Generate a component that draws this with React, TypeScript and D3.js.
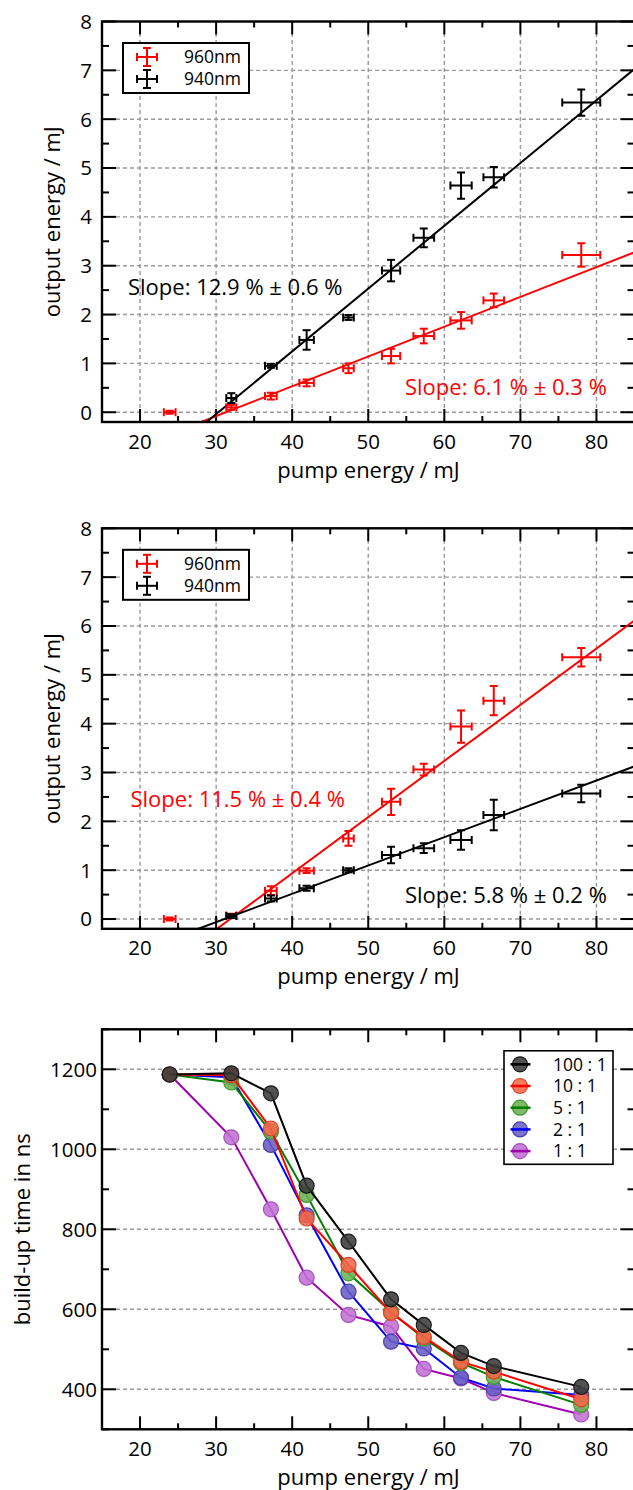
import React from "react";
import * as d3 from "d3";

const W = 633;
const H = 1490;
const FONT = "'Open Sans', sans-serif";

// pump energies (mJ) and their horizontal error
const pumpEnergy = [23.9, 32.0, 37.2, 41.9, 47.4, 53.0, 57.3, 62.2, 66.5, 78.0];
const pumpErr = [0.77, 0.66, 0.77, 0.95, 0.7, 1.2, 1.36, 1.4, 1.36, 2.5];

// panel 1: output energy (mJ)
const p1Red = [0, 0.1, 0.33, 0.6, 0.9, 1.15, 1.56, 1.88, 2.29, 3.22];
const p1RedErr = [0.03, 0.05, 0.07, 0.07, 0.1, 0.15, 0.15, 0.17, 0.14, 0.24];
const p1Black = [null, 0.29, 0.95, 1.48, 1.94, 2.9, 3.57, 4.64, 4.81, 6.34];
const p1BlackErr = [null, 0.1, 0.04, 0.2, 0.05, 0.22, 0.19, 0.27, 0.21, 0.27];

// panel 2: output energy (mJ)
const p2Red = [0, 0.07, 0.58, 0.99, 1.65, 2.4, 3.06, 3.94, 4.47, 5.36];
const p2RedErr = [0.03, 0.04, 0.09, 0.05, 0.15, 0.27, 0.12, 0.33, 0.3, 0.19];
const p2Black = [null, 0.06, 0.42, 0.63, 1.0, 1.31, 1.45, 1.62, 2.13, 2.57];
const p2BlackErr = [null, 0.04, 0.06, 0.05, 0.04, 0.17, 0.1, 0.2, 0.31, 0.18];

// linear fits: [slope, threshold]
const p1FitRed = [0.061, 31.3];
const p1FitBlack = [0.1285, 30.3];
const p2FitRed = [0.115, 31.85];
const p2FitBlack = [0.058, 31.1];

const legendNames = ["960nm", "940nm"];
const energyTicks = [0, 1, 2, 3, 4, 5, 6, 7, 8];
const pumpTicks = [20, 30, 40, 50, 60, 70, 80];

// panel 3: build-up time (ns)
const ratioNames = ["100 : 1", "10 : 1", "5 : 1", "2 : 1", "1 : 1"];
const t100 = [1187, 1190, 1140, 909, 769, 625, 561, 491, 458, 406];
const t10 = [1187, 1185, 1052, 827, 711, 591, 531, 469, 444, 375];
const t5 = [1187, 1167, 1044, 886, 690, 594, 527, 466, 431, 361];
const t2 = [1187, 1180, 1011, 835, 644, 519, 502, 429, 402, 386];
const t1 = [1187, 1030, 850, 679, 586, 557, 451, 427, 391, 337];
const timeTicks = [400, 600, 800, 1000, 1200];

const ratioStyle = [
  { line: "#000000", fill: "#3a3a3a", stroke: "#1a1a1a" },
  { line: "#ff0000", fill: "#f2684a", stroke: "#d8452a" },
  { line: "#008000", fill: "#6cb252", stroke: "#3f9a30" },
  { line: "#0000ff", fill: "#6a5fc4", stroke: "#4b40ae" },
  { line: "#a000b0", fill: "#c072d4", stroke: "#a452c0" },
];

const xScale = () => d3.scaleLinear().domain([15, 85]).range([102, 634.5]);

function Axes({ x, y, yMajor, yMinor, vGrid, labelRight, yTitle, titleX }) {
  const [x0, x1] = x.range();
  const [yb, yt] = y.range();
  const xMinor = [15, 25, 35, 45, 55, 65, 75, 85];
  return (
    <g>
      {yMajor.map((v) => (
        <line key={"gy" + v} x1={x0} x2={x1} y1={y(v)} y2={y(v)} stroke="#9a9a9a" strokeWidth={1.4} strokeDasharray="4,3" />
      ))}
      {vGrid &&
        pumpTicks.map((v) => (
          <line key={"gx" + v} x1={x(v)} x2={x(v)} y1={yb} y2={yt} stroke="#9a9a9a" strokeWidth={1.4} strokeDasharray="4,3" />
        ))}
      {yMajor.map((v) => (
        <g key={"ty" + v}>
          <line x1={x0} x2={x0 + 14} y1={y(v)} y2={y(v)} stroke="#000" strokeWidth={2} />
          <line x1={x1 - 14} x2={x1} y1={y(v)} y2={y(v)} stroke="#000" strokeWidth={2} />
          <text x={labelRight} y={y(v)} dy="0.36em" textAnchor="end" fontSize={20.5} fontFamily={FONT}>
            {v}
          </text>
        </g>
      ))}
      {yMinor.map((v) => (
        <g key={"my" + v}>
          <line x1={x0} x2={x0 + 7} y1={y(v)} y2={y(v)} stroke="#000" strokeWidth={2} />
          <line x1={x1 - 7} x2={x1} y1={y(v)} y2={y(v)} stroke="#000" strokeWidth={2} />
        </g>
      ))}
      {pumpTicks.map((v) => (
        <g key={"tx" + v}>
          <line x1={x(v)} x2={x(v)} y1={yb} y2={yb - 13} stroke="#000" strokeWidth={2} />
          <line x1={x(v)} x2={x(v)} y1={yt} y2={yt + 13} stroke="#000" strokeWidth={2} />
          <text x={x(v)} y={yb + 26.5} textAnchor="middle" fontSize={20.5} fontFamily={FONT}>
            {v}
          </text>
        </g>
      ))}
      {xMinor.map((v) => (
        <g key={"mx" + v}>
          <line x1={x(v)} x2={x(v)} y1={yb} y2={yb - 6} stroke="#000" strokeWidth={2} />
          <line x1={x(v)} x2={x(v)} y1={yt} y2={yt + 6} stroke="#000" strokeWidth={2} />
        </g>
      ))}
      <text x={(x0 + 633) / 2 + 1} y={yb + 55.5} textAnchor="middle" fontSize={22} fontFamily={FONT}>
        pump energy / mJ
      </text>
      <text
        transform={`translate(${titleX},${(yb + yt) / 2}) rotate(-90)`}
        textAnchor="middle"
        fontSize={22}
        fontFamily={FONT}
      >
        {yTitle}
      </text>
    </g>
  );
}

function ErrorCross({ cx, cy, dx, dy, color }) {
  const c = 4;
  return (
    <g stroke={color} strokeWidth={2} fill="none">
      <line x1={cx - dx} x2={cx + dx} y1={cy} y2={cy} />
      <line x1={cx - dx} x2={cx - dx} y1={cy - c} y2={cy + c} />
      <line x1={cx + dx} x2={cx + dx} y1={cy - c} y2={cy + c} />
      <line x1={cx} x2={cx} y1={cy - dy} y2={cy + dy} />
      <line x1={cx - c} x2={cx + c} y1={cy - dy} y2={cy - dy} />
      <line x1={cx - c} x2={cx + c} y1={cy + dy} y2={cy + dy} />
    </g>
  );
}

function EnergyPanel({ id, top, red, redErr, black, blackErr, fitRed, fitBlack, texts }) {
  const x = xScale();
  const y = d3.scaleLinear().domain([-0.2, 8]).range([top + 400.5, top]);
  const [x0, x1] = x.range();
  const fitLine = (fit) =>
    d3
      .line()
      .x((d) => x(d))
      .y((d) => y(fit[0] * (d - fit[1])))([15, 85]);
  const series = [
    { vals: red, errs: redErr, color: "#ff0000" },
    { vals: black, errs: blackErr, color: "#000000" },
  ];
  const minor = d3.range(-0.5, 8, 1).filter((v) => v > -0.2);
  return (
    <g>
      <defs>
        <clipPath id={id}>
          <rect x={x0} y={top} width={x1 - x0} height={400.5} />
        </clipPath>
      </defs>
      <Axes x={x} y={y} yMajor={energyTicks} yMinor={minor} vGrid labelRight={92} yTitle="output energy / mJ" titleX={60} />
      <g clipPath={`url(#${id})`}>
        <path d={fitLine(fitRed)} stroke="#ff0000" strokeWidth={2} fill="none" />
        <path d={fitLine(fitBlack)} stroke="#000" strokeWidth={2} fill="none" />
        {series.map((s, si) =>
          s.vals.map((v, i) =>
            v == null ? null : (
              <ErrorCross
                key={si + "-" + i}
                cx={x(pumpEnergy[i])}
                cy={y(v)}
                dx={x(pumpEnergy[i] + pumpErr[i]) - x(pumpEnergy[i])}
                dy={y(0) - y(s.errs[i])}
                color={s.color}
              />
            )
          )
        )}
      </g>
      <rect x={x0} y={top} width={x1 - x0} height={400.5} fill="none" stroke="#000" strokeWidth={2.4} />
      <rect x={123} y={top + 21.5} width={126} height={50} fill="#fff" stroke="#000" strokeWidth={2} />
      {legendNames.map((n, i) => (
        <g key={n}>
          <ErrorCross cx={147} cy={top + 35.5 + i * 22} dx={10} dy={9} color={i === 0 ? "#ff0000" : "#000"} />
          <text x={241} y={top + 35.5 + i * 22} dy="0.36em" textAnchor="end" fontSize={17.5} fontFamily={FONT}>
            {n}
          </text>
        </g>
      ))}
      {texts.map((t) => (
        <text key={t.label} x={t.x} y={top + t.dy} fill={t.color} fontSize={22} fontFamily={FONT}>
          {t.label}
        </text>
      ))}
    </g>
  );
}

function BuildUpPanel({ top }) {
  const x = xScale();
  const y = d3.scaleLinear().domain([300, 1300]).range([top + 400, top]);
  const [x0, x1] = x.range();
  const all = [t100, t10, t5, t2, t1];
  const line = d3
    .line()
    .x((d, i) => x(pumpEnergy[i]))
    .y((d) => y(d));
  const order = [4, 3, 2, 1, 0];
  return (
    <g>
      <Axes
        x={x}
        y={y}
        yMajor={timeTicks}
        yMinor={[300, 500, 700, 900, 1100, 1300]}
        vGrid={false}
        labelRight={97}
        yTitle="build-up time in ns"
        titleX={30}
      />
      {order.map((k) => (
        <g key={k}>
          <path d={line(all[k])} stroke={ratioStyle[k].line} strokeWidth={2} fill="none" />
          {all[k].map((v, i) => (
            <circle
              key={i}
              cx={x(pumpEnergy[i])}
              cy={y(v)}
              r={7.5}
              fill={ratioStyle[k].fill}
              fillOpacity={0.88}
              stroke={ratioStyle[k].stroke}
              strokeWidth={1.2}
            />
          ))}
        </g>
      ))}
      <rect x={x0} y={top} width={x1 - x0} height={400} fill="none" stroke="#000" strokeWidth={2.4} />
      <rect x={504} y={top + 21.5} width={109} height={113.5} fill="#fff" stroke="#000" strokeWidth={1.6} />
      {ratioNames.map((n, i) => {
        const ry = top + 35 + i * 21.7;
        return (
          <g key={n}>
            <line x1={510.5} x2={530.5} y1={ry} y2={ry} stroke={ratioStyle[i].line} strokeWidth={2.5} />
            <circle cx={520} cy={ry} r={7.5} fill={ratioStyle[i].fill} fillOpacity={0.88} stroke={ratioStyle[i].stroke} strokeWidth={1.2} />
            <line x1={512} x2={528} y1={ry} y2={ry} stroke={ratioStyle[i].line} strokeWidth={2.5} />
            <text x={553} y={ry} dy="0.36em" fontSize={17.5} fontFamily={FONT}>
              {n}
            </text>
          </g>
        );
      })}
    </g>
  );
}

export default function App() {
  return (
    <svg
      width={W}
      height={H}
      style={{ position: "absolute", left: 0, top: 0, background: "#fff", overflow: "hidden" }}
    >
      <rect width={W} height={H} fill="#fff" />
      <EnergyPanel
        id="clipA"
        top={21.5}
        red={p1Red}
        redErr={p1RedErr}
        black={p1Black}
        blackErr={p1BlackErr}
        fitRed={p1FitRed}
        fitBlack={p1FitBlack}
        texts={[
          { label: "Slope: 12.9 % ± 0.6 %", x: 128, dy: 273, color: "#000" },
          { label: "Slope: 6.1 % ± 0.3 %", x: 405, dy: 373.5, color: "#ff0000" },
        ]}
      />
      <EnergyPanel
        id="clipB"
        top={528.3}
        red={p2Red}
        redErr={p2RedErr}
        black={p2Black}
        blackErr={p2BlackErr}
        fitRed={p2FitRed}
        fitBlack={p2FitBlack}
        texts={[
          { label: "Slope: 11.5 % ± 0.4 %", x: 130.5, dy: 278.5, color: "#ff0000" },
          { label: "Slope: 5.8 % ± 0.2 %", x: 405, dy: 374.5, color: "#000" },
        ]}
      />
      <BuildUpPanel top={1029.3} />
    </svg>
  );
}
